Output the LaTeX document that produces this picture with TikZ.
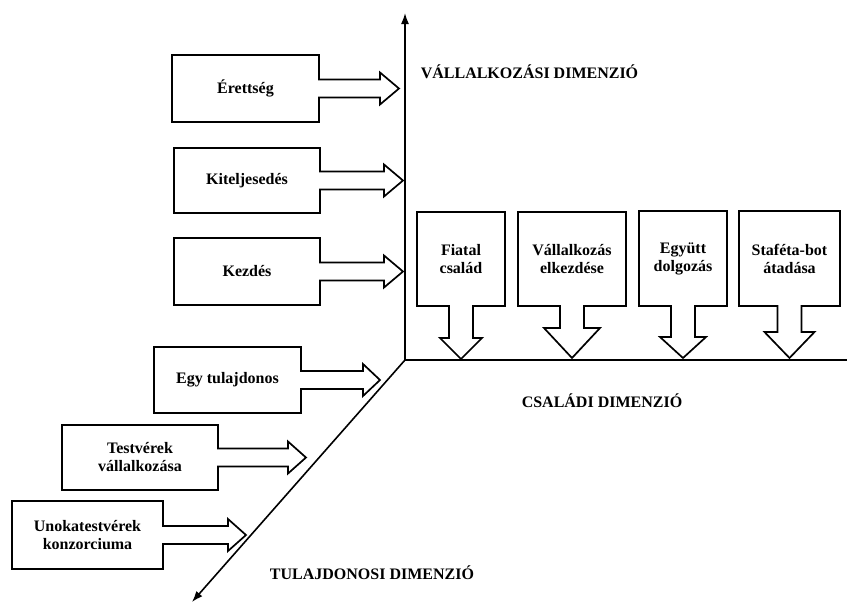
\documentclass[tikz,border=0pt]{standalone}
\usepackage{fontspec}
\setmainfont{Liberation Serif}
\usetikzlibrary{arrows.meta}
\tikzset{
  boxline/.style={line width=1.7pt, line join=miter, black},
  boxtext/.style={font=\bfseries\fontsize{16}{18}\selectfont, align=center, inner sep=0pt},
  axisline/.style={line width=1.6pt, black},
  axislabel/.style={font=\bfseries\fontsize{16}{18}\selectfont, inner sep=0pt},
}
% horizontal arrow box: name, left, top, right, bottom, head start x, tip x, text
\newcommand{\harrowbox}[8]{%
  \pgfmathsetmacro{\cy}{(#3+#5)/2}%
  \node[boxtext] (#1) at ({(#2+#4)/2},\cy) {#8};
  \draw[boxline] (#2,#3) -- (#4,#3) -- (#4,\cy-9) -- (#6,\cy-9) -- (#6,\cy-16)
    -- (#7,\cy) -- (#6,\cy+16) -- (#6,\cy+9) -- (#4,\cy+9) -- (#4,#5) -- (#2,#5) -- cycle;
}
% vertical arrow box: name, left, top, right, bottom, head start y, tip y, text, head half width
\newcommand{\varrowbox}[9]{%
  \pgfmathsetmacro{\cx}{(#2+#4)/2}%
  \node[boxtext] (#1) at (\cx,{(#3+#5)/2}) {#8};
  \draw[boxline] (#2,#3) -- (#4,#3) -- (#4,#5) -- (\cx+12,#5) -- (\cx+12,#6) -- (\cx+#9,#6)
    -- (\cx,#7) -- (\cx-#9,#6) -- (\cx-12,#6) -- (\cx-12,#5) -- (#2,#5) -- cycle;
}
\begin{document}
\begin{tikzpicture}[x=1pt,y=-1pt]
\useasboundingbox (0,0) rectangle (847,603);
\fill[white] (0,0) rectangle (847,603);
% axes
\coordinate (O) at (405,360);
\coordinate (vtop) at (405,13);
\coordinate (hend) at (847,360);
\coordinate (dend) at (192,602);
\draw[axisline,-{Latex[length=11pt,width=8pt]}] (O) -- (vtop);
\draw[axisline] (O) -- (hend);
\draw[axisline,-{Latex[length=11pt,width=8pt]}] (O) -- (dend);
% labels
\node[axislabel] (vlab) at (529.5,72) {VÁLLALKOZÁSI DIMENZIÓ};
\node[axislabel] (clab) at (602,401) {CSALÁDI DIMENZIÓ};
\node[axislabel] (tlab) at (372,573) {TULAJDONOSI DIMENZIÓ};
% left boxes
\harrowbox{b1}{172}{55}{319}{122}{380}{399}{Érettség}
\harrowbox{b2}{174}{148}{320}{213}{384}{403}{Kiteljesedés}
\harrowbox{b3}{174}{238}{320}{305}{384}{403}{Kezdés}
\harrowbox{b4}{154}{347}{301}{413}{363}{380}{Egy tulajdonos}
\harrowbox{b5}{62}{425}{218}{490}{288}{306}{Testvérek\\vállalkozása}
\harrowbox{b6}{12}{501}{163}{569}{228}{246}{Unokatestvérek\\konzorciuma}
% top boxes
\varrowbox{c1}{417}{212}{505}{306}{338}{359}{Fiatal\\család}{21}
\varrowbox{c2}{518}{212}{626}{306}{328}{358}{Vállalkozás\\elkezdése}{28}
\varrowbox{c3}{639}{211}{727}{306}{337}{358}{Együtt\\dolgozás}{23}
\varrowbox{c4}{739}{211}{840}{306}{332}{358}{Staféta-bot\\átadása}{25}
\end{tikzpicture}
\end{document}
